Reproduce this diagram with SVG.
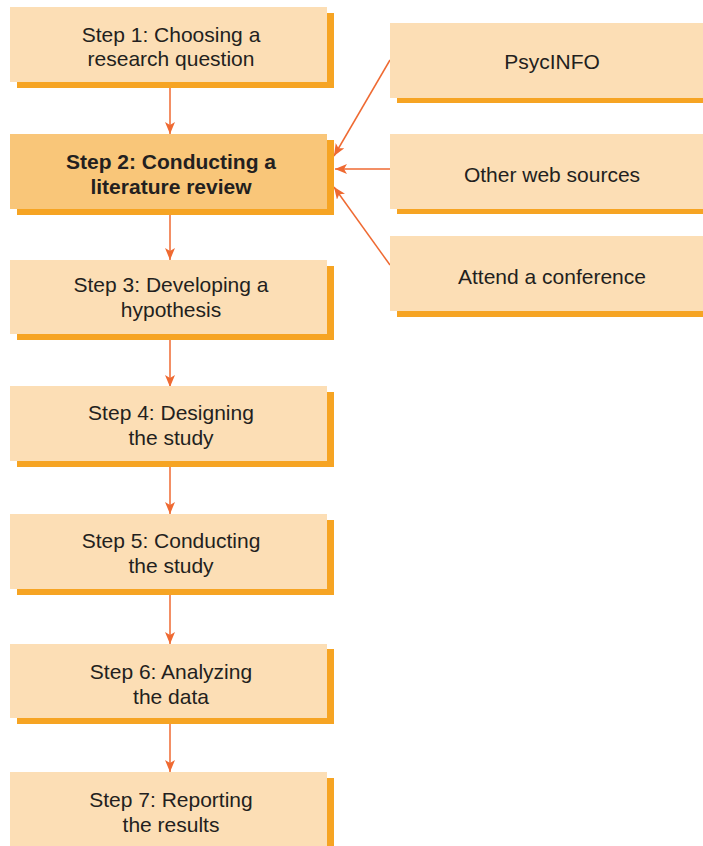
<svg xmlns="http://www.w3.org/2000/svg" width="703" height="846" viewBox="0 0 703 846">
<style>
.sh{fill:#f6a423}
.bx{fill:#fcdeb5}
.bx2{fill:#f9c679}
.t{font-family:'Liberation Sans', 'DejaVu Sans', sans-serif;font-size:21px;fill:#231f20;text-anchor:middle}
.b{font-weight:bold}
.c{stroke:#ef6a32;stroke-width:1.5;fill:none}
</style>
<defs>
<marker id="ah" viewBox="0 0 12 10" refX="12" refY="5" markerWidth="12" markerHeight="10" markerUnits="userSpaceOnUse" orient="auto">
<path d="M0,0 L12,5 L0,10 L3,5 Z" fill="#ef6a32"/>
</marker>
</defs>
<rect width="703" height="846" fill="#ffffff"/>
<g id="connectors">
<line class="c" x1="170" y1="88" x2="170" y2="134" marker-end="url(#ah)"/>
<line class="c" x1="170" y1="215" x2="170" y2="260" marker-end="url(#ah)"/>
<line class="c" x1="170" y1="340" x2="170" y2="387" marker-end="url(#ah)"/>
<line class="c" x1="170" y1="467" x2="170" y2="514" marker-end="url(#ah)"/>
<line class="c" x1="170" y1="595" x2="170" y2="644" marker-end="url(#ah)"/>
<line class="c" x1="170" y1="724" x2="170" y2="772" marker-end="url(#ah)"/>
<line class="c" x1="390" y1="60" x2="334" y2="156" marker-end="url(#ah)"/>
<line class="c" x1="390" y1="169" x2="335" y2="169" marker-end="url(#ah)"/>
<line class="c" x1="390" y1="265" x2="334" y2="187" marker-end="url(#ah)"/>
</g>
<g id="step1">
<rect class="sh" x="17" y="13" width="317" height="75"/>
<rect class="bx" x="10" y="7" width="317" height="75"/>
<text class="t" x="171" y="42">Step 1: Choosing a</text>
<text class="t" x="171" y="66">research question</text>
</g>
<g id="step2">
<rect class="sh" x="17" y="140" width="317" height="75"/>
<rect class="bx2" x="10" y="134" width="317" height="75"/>
<text class="t b" x="171" y="169">Step 2: Conducting a</text>
<text class="t b" x="171" y="194">literature review</text>
</g>
<g id="step3">
<rect class="sh" x="17" y="266" width="317" height="74"/>
<rect class="bx" x="10" y="260" width="317" height="74"/>
<text class="t" x="171" y="292">Step 3: Developing a</text>
<text class="t" x="171" y="317">hypothesis</text>
</g>
<g id="step4">
<rect class="sh" x="17" y="392" width="317" height="75"/>
<rect class="bx" x="10" y="386" width="317" height="75"/>
<text class="t" x="171" y="420">Step 4: Designing</text>
<text class="t" x="171" y="445">the study</text>
</g>
<g id="step5">
<rect class="sh" x="17" y="520" width="317" height="75"/>
<rect class="bx" x="10" y="514" width="317" height="75"/>
<text class="t" x="171" y="548">Step 5: Conducting</text>
<text class="t" x="171" y="573">the study</text>
</g>
<g id="step6">
<rect class="sh" x="17" y="649" width="317" height="75"/>
<rect class="bx" x="10" y="644" width="317" height="74"/>
<text class="t" x="171" y="679">Step 6: Analyzing</text>
<text class="t" x="171" y="704">the data</text>
</g>
<g id="step7">
<rect class="sh" x="17" y="778" width="317" height="68"/>
<rect class="bx" x="10" y="772" width="317" height="74"/>
<text class="t" x="171" y="807">Step 7: Reporting</text>
<text class="t" x="171" y="832">the results</text>
</g>
<g id="psycinfo">
<rect class="sh" x="397" y="29" width="306" height="74"/>
<rect class="bx" x="390" y="23" width="313" height="75"/>
<text class="t" x="552" y="69">PsycINFO</text>
</g>
<g id="otherweb">
<rect class="sh" x="397" y="140" width="306" height="74"/>
<rect class="bx" x="390" y="134" width="313" height="75"/>
<text class="t" x="552" y="182">Other web sources</text>
</g>
<g id="conference">
<rect class="sh" x="397" y="242" width="306" height="75"/>
<rect class="bx" x="390" y="236" width="313" height="75"/>
<text class="t" x="552" y="284">Attend a conference</text>
</g>
</svg>
